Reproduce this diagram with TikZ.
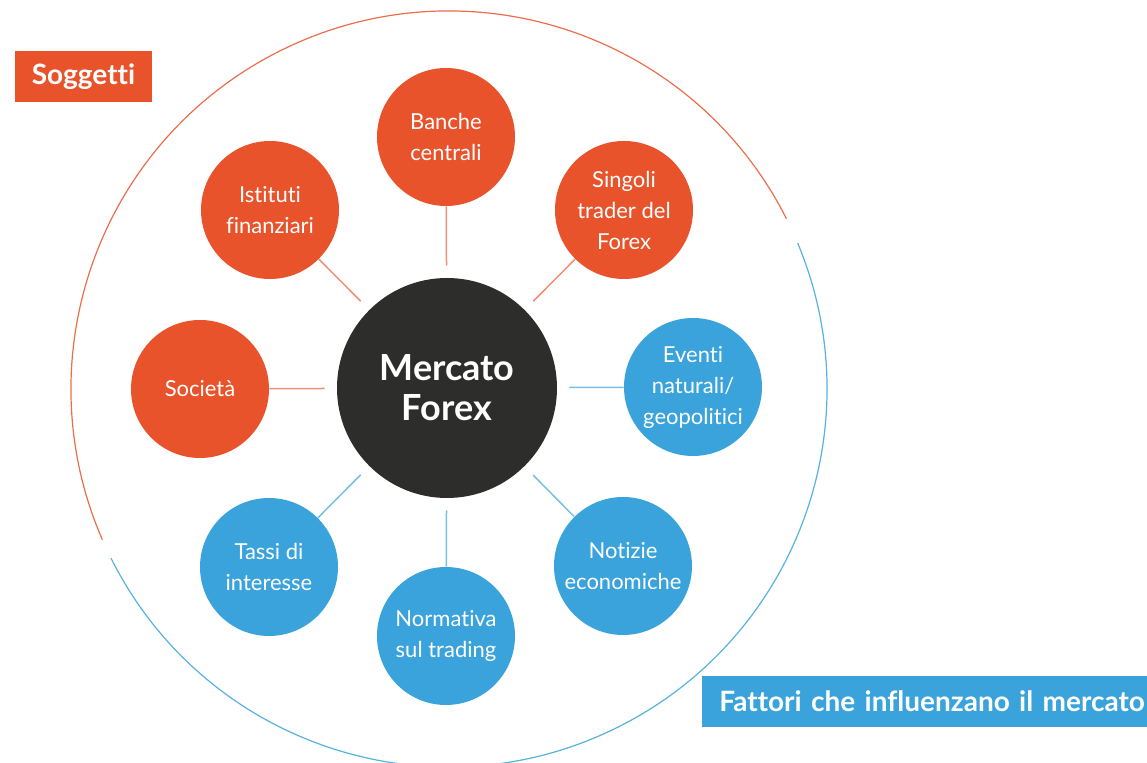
\documentclass[tikz,border=0pt]{standalone}
\usepackage{fontspec}
\setmainfont{Lato}[Ligatures=NoCommon]
\usepackage{tikz}
\usetikzlibrary{positioning}

\definecolor{soggred}{HTML}{E8532B}
\definecolor{fattblue}{HTML}{3AA3DC}
\definecolor{coredark}{HTML}{2D2D2B}

\begin{document}
\begin{tikzpicture}[
    x=0.5pt, y=-0.5pt,
    soggetto/.style={circle, fill=soggred, minimum size=69pt, inner sep=0pt, text=white, align=center, font=\fontsize{11}{15.5}\selectfont},
    fattore/.style={soggetto, fill=fattblue},
    core/.style={circle, fill=coredark, minimum size=110pt, inner sep=0pt, text=white, align=center, font=\fontsize{18}{20}\selectfont\bfseries},
    redlink/.style={draw=soggred!65, line width=0.75pt, shorten >=6pt},
    bluelink/.style={draw=fattblue!70, line width=0.75pt, shorten >=6pt},
    tag/.style={text=white, inner sep=0pt, minimum height=25.5pt, font=\fontsize{14}{16}\selectfont\bfseries}
]
    \useasboundingbox (0,0) rectangle (1147,763);

    % Outer ring
    \coordinate (hub) at (449,389);
    \draw[soggred!85, line width=0.6pt] (hub) ++(-26.8:378) arc[start angle=-26.8, end angle=-203.5, radius=378];
    \draw[fattblue!85, line width=0.6pt] (hub) ++(-206.6:378) arc[start angle=-206.6, end angle=-382.7, radius=378];

    % Market
    \node[core] (mkt) at (447,388) {Mercato\\Forex};

    % Soggetti
    \node[soggetto] (banche) at (446,137) {Banche\\centrali};
    \node[soggetto] (singoli) at (624,210) {Singoli\\trader del\\Forex};
    \node[soggetto] (istituti) at (270,210) {Istituti\\finanziari};
    \node[soggetto] (societa) at (200,389) {Società};

    % Fattori
    \node[fattore] (eventi) at (693,387) {Eventi\\naturali/\\geopolitici};
    \node[fattore] (notizie) at (623,566) {Notizie\\economiche};
    \node[fattore] (normativa) at (446,636) {Normativa\\sul trading};
    \node[fattore] (tassi) at (269,567) {Tassi di\\interesse};

    % Links
    \draw[redlink] (banche) -- (mkt);
    \draw[redlink] (singoli) -- (mkt);
    \draw[redlink] (istituti) -- (mkt);
    \draw[redlink] (societa) -- (mkt);
    \draw[bluelink] (eventi) -- (mkt);
    \draw[bluelink] (notizie) -- (mkt);
    \draw[bluelink] (normativa) -- (mkt);
    \draw[bluelink] (tassi) -- (mkt);

    % Headings
    \node[tag, fill=soggred, minimum width=68.5pt] (soggetti) at (83.5,77) {Soggetti};
    \node[tag, fill=fattblue, anchor=west, minimum width=222.5pt, text width=214pt, align=left, inner xsep=8.5pt] (fattori) at (702,701.5) {Fattori che influenzano il mercato};
\end{tikzpicture}
\end{document}
